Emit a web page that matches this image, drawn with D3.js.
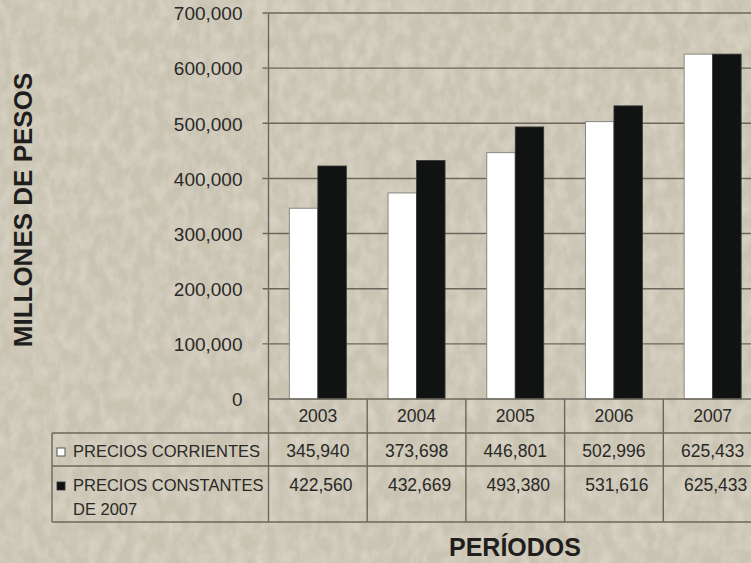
<!DOCTYPE html>
<html>
<head>
<meta charset="utf-8">
<script src="https://cdn.jsdelivr.net/npm/d3@7/dist/d3.min.js"></script>
<style>
  html, body { margin: 0; padding: 0; background: #cbc5b4; overflow: hidden; }
  svg { display: block; font-family: "Liberation Sans", Arial, sans-serif; }
</style>
</head>
<body>
<svg id="chart" width="751" height="563"></svg>
<script>
const years = ["2003", "2004", "2005", "2006", "2007"];
const corrientes = [345940, 373698, 446801, 502996, 625433];
const constantes = [422560, 432669, 493380, 531616, 625433];
const yTicks = [0, 100000, 200000, 300000, 400000, 500000, 600000, 700000];
const seriesNames = ["PRECIOS CORRIENTES", "PRECIOS CONSTANTES"];
const seriesSub = ["", "DE 2007"];

const W = 751, H = 563;
const svg = d3.select("#chart");

// textured background
const defs = svg.append("defs");
const f = defs.append("filter").attr("id", "tex").attr("x", 0).attr("y", 0).attr("width", "100%").attr("height", "100%");
f.append("feTurbulence").attr("type", "fractalNoise").attr("baseFrequency", "0.09 0.06").attr("numOctaves", 3).attr("seed", 7).attr("result", "n");
f.append("feColorMatrix").attr("in", "n").attr("type", "matrix")
  .attr("values", "0 0 0 0 0.96  0 0 0 0 0.94  0 0 0 0 0.89  0 0 0 -1.1 0.75");
svg.append("rect").attr("width", W).attr("height", H).attr("fill", "#c9c3b2");
svg.append("rect").attr("width", W).attr("height", H).attr("filter", "url(#tex)").attr("opacity", 0.5);

const left = 268.5, bandW = 98.7;
const plotTop = 13, plotBottom = 399;
const x = d3.scaleBand().domain(years).range([left, left + bandW * years.length]).paddingInner(0).paddingOuter(0);
const y = d3.scaleLinear().domain([0, 700000]).range([plotBottom, plotTop]);
const barW = 28.5;

const lineCol = "#6b675d";
const textCol = "#2a2927";

// gridlines
svg.append("g").selectAll("line").data(yTicks.filter(d => d > 0)).join("line")
  .attr("x1", left - 6).attr("x2", W + 20)
  .attr("y1", d => y(d)).attr("y2", d => y(d))
  .attr("stroke", lineCol).attr("stroke-width", 1.4);

// y axis
const yAxis = d3.axisLeft(y).tickValues(yTicks).tickSize(0).tickPadding(0)
  .tickFormat(d => d3.format(",")(d));
const gy = svg.append("g").attr("transform", `translate(${left - 26},0)`).call(yAxis);
gy.select(".domain").remove();
gy.selectAll("text").attr("font-size", 19).attr("fill", textCol).attr("dy", "0.36em");
svg.append("line").attr("x1", left).attr("x2", left).attr("y1", plotTop).attr("y2", plotBottom)
  .attr("stroke", lineCol).attr("stroke-width", 1.4);

// bars
const gBars = svg.append("g");
gBars.selectAll("rect.c").data(years).join("rect").attr("class", "c")
  .attr("x", d => x(d) + x.bandwidth() / 2 - barW)
  .attr("width", barW)
  .attr("y", (d, i) => y(corrientes[i]))
  .attr("height", (d, i) => plotBottom - y(corrientes[i]))
  .attr("fill", "#ffffff").attr("stroke", "#8a877f").attr("stroke-width", 1);
gBars.selectAll("rect.k").data(years).join("rect").attr("class", "k")
  .attr("x", d => x(d) + x.bandwidth() / 2)
  .attr("width", barW)
  .attr("y", (d, i) => y(constantes[i]))
  .attr("height", (d, i) => plotBottom - y(constantes[i]))
  .attr("fill", "#111212").attr("stroke", "#3a3a38").attr("stroke-width", 0.8);

// data table
const tLeft = 52, r0 = plotBottom, r1 = 433, r2 = 466, r3 = 522, tRight = W + 20;
const gt = svg.append("g").attr("stroke", lineCol).attr("stroke-width", 1.4);
gt.append("line").attr("x1", left).attr("x2", tRight).attr("y1", r0).attr("y2", r0);
[r1, r2, r3].forEach(r => gt.append("line").attr("x1", tLeft).attr("x2", tRight).attr("y1", r).attr("y2", r));
gt.append("line").attr("x1", tLeft).attr("x2", tLeft).attr("y1", r1).attr("y2", r3);
gt.selectAll("line.v").data(years).join("line").attr("class", "v")
  .attr("x1", d => x(d)).attr("x2", d => x(d)).attr("y1", r0).attr("y2", r3);

const gtx = svg.append("g").attr("fill", textCol).attr("font-size", 17.5);
gtx.selectAll("text.yr").data(years).join("text").attr("class", "yr")
  .attr("x", d => x(d) + x.bandwidth() / 2).attr("y", 422).attr("text-anchor", "middle").text(d => d);
gtx.selectAll("text.v1").data(years).join("text").attr("class", "v1")
  .attr("x", d => x(d) + x.bandwidth() / 2).attr("y", 457).attr("text-anchor", "middle")
  .text((d, i) => d3.format(",")(corrientes[i]));
gtx.selectAll("text.v2").data(years).join("text").attr("class", "v2")
  .attr("x", d => x(d) + x.bandwidth() / 2 + 3).attr("y", 491).attr("text-anchor", "middle")
  .text((d, i) => d3.format(",")(constantes[i]));

// legend labels in table
svg.append("rect").attr("x", 57).attr("y", 448).attr("width", 8).attr("height", 8)
  .attr("fill", "#fff").attr("stroke", "#555").attr("stroke-width", 1);
svg.append("rect").attr("x", 57).attr("y", 482).attr("width", 8).attr("height", 8)
  .attr("fill", "#111").attr("stroke", "#333").attr("stroke-width", 0.8);
const gl = svg.append("g").attr("fill", textCol).attr("font-size", 16.5);
gl.append("text").attr("x", 73).attr("y", 457).text(seriesNames[0]);
gl.append("text").attr("x", 73).attr("y", 491).text(seriesNames[1]);
gl.append("text").attr("x", 73).attr("y", 515).text(seriesSub[1]);

// axis titles
svg.append("text").attr("transform", "translate(32,210) rotate(-90)")
  .attr("text-anchor", "middle").attr("font-weight", "bold").attr("font-size", 26)
  .attr("fill", "#1f1e1c").text("MILLONES DE PESOS");
svg.append("text").attr("x", 515).attr("y", 556)
  .attr("text-anchor", "middle").attr("font-weight", "bold").attr("font-size", 25)
  .attr("fill", "#1f1e1c").text("PERÍODOS");
</script>
</body>
</html>
